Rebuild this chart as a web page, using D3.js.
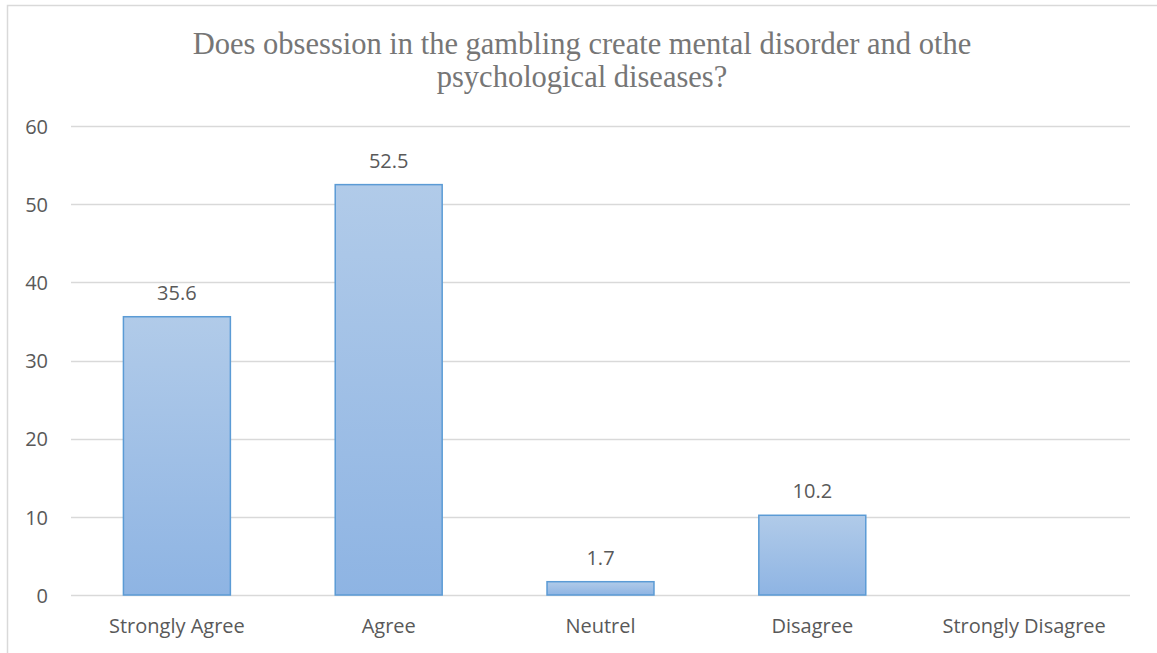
<!DOCTYPE html>
<html>
<head>
<meta charset="utf-8">
<script src="https://cdn.jsdelivr.net/npm/d3@7"></script>
<style>
  html, body { margin: 0; padding: 0; background: #fff; }
  svg { display: block; }
</style>
</head>
<body>
<svg id="chart" width="1157" height="653"></svg>
<script>
// Survey responses (percent)
const categories = ["Strongly Agree", "Agree", "Neutrel", "Disagree", "Strongly Disagree"];
const values = [35.6, 52.5, 1.7, 10.2, 0];
const yTicks = [0, 10, 20, 30, 40, 50, 60];
const titleLines = [
  "Does obsession in the gambling create mental disorder and othe",
  "psychological diseases?"
];

const svg = d3.select("#chart");
const W = 1157, H = 653;
const margin = { left: 71, right: 27, top: 126, bottom: 58 };
const labelFont = "'Open Sans', Lato, sans-serif";

// chart frame
svg.append("rect")
  .attr("x", 7.5).attr("y", 5.5)
  .attr("width", W + 20).attr("height", H + 20)
  .attr("fill", "#fff").attr("stroke", "#d9d9d9").attr("stroke-width", 1.5);

const x = d3.scaleBand()
  .domain(categories)
  .range([margin.left, W - margin.right])
  .paddingInner(0.495)
  .paddingOuter(0.2475);

const y = d3.scaleLinear()
  .domain([0, 60])
  .range([H - margin.bottom, margin.top]);

// bar gradient
const defs = svg.append("defs");
const grad = defs.append("linearGradient")
  .attr("id", "barFill").attr("x1", 0).attr("y1", 0).attr("x2", 0).attr("y2", 1);
grad.append("stop").attr("offset", "0%").attr("stop-color", "#b1cbe9");
grad.append("stop").attr("offset", "100%").attr("stop-color", "#8eb4e3");

// gridlines
svg.append("g")
  .selectAll("line")
  .data(yTicks)
  .join("line")
  .attr("x1", margin.left).attr("x2", W - margin.right)
  .attr("y1", d => Math.round(y(d)) + 0.5).attr("y2", d => Math.round(y(d)) + 0.5)
  .attr("stroke", "#d9d9d9").attr("stroke-width", 1.3);

// y axis labels
const yAxis = d3.axisLeft(y).tickValues(yTicks).tickSize(0).tickPadding(0);
const gy = svg.append("g")
  .attr("transform", `translate(${margin.left - 23},0)`)
  .call(yAxis);
gy.select(".domain").remove();
gy.selectAll("text")
  .attr("font-family", labelFont)
  .attr("font-size", 20)
  .attr("fill", "#595959")
  .attr("dy", "0.36em");

const barData = categories.map((c, i) => ({ c, v: values[i] })).filter(d => d.v > 0);

// bars
svg.append("g")
  .selectAll("rect")
  .data(barData)
  .join("rect")
  .attr("x", d => x(d.c))
  .attr("y", d => y(d.v))
  .attr("width", x.bandwidth())
  .attr("height", d => y(0) - y(d.v))
  .attr("fill", "url(#barFill)")
  .attr("stroke", "#5b9bd5")
  .attr("stroke-width", 1.5);

// value labels
svg.append("g")
  .selectAll("text")
  .data(barData)
  .join("text")
  .attr("x", d => x(d.c) + x.bandwidth() / 2)
  .attr("y", d => y(d.v) - 17)
  .attr("text-anchor", "middle")
  .attr("font-family", labelFont)
  .attr("font-size", 20)
  .attr("fill", "#595959")
  .text(d => d.v);

// x axis labels
const xAxis = d3.axisBottom(x).tickSize(0).tickPadding(0);
const gx = svg.append("g")
  .attr("transform", `translate(0,${y(0) + 38})`)
  .call(xAxis);
gx.select(".domain").remove();
gx.selectAll("text")
  .attr("font-family", labelFont)
  .attr("font-size", 20)
  .attr("fill", "#595959")
  .attr("dy", 0);

// title
svg.append("g")
  .selectAll("text")
  .data(titleLines)
  .join("text")
  .attr("x", 582)
  .attr("y", (d, i) => 54 + i * 33)
  .attr("text-anchor", "middle")
  .attr("font-family", "'Liberation Serif', 'Times New Roman', serif")
  .attr("font-size", 30.5)
  .attr("fill", "#767676")
  .text(d => d);
</script>
</body>
</html>
